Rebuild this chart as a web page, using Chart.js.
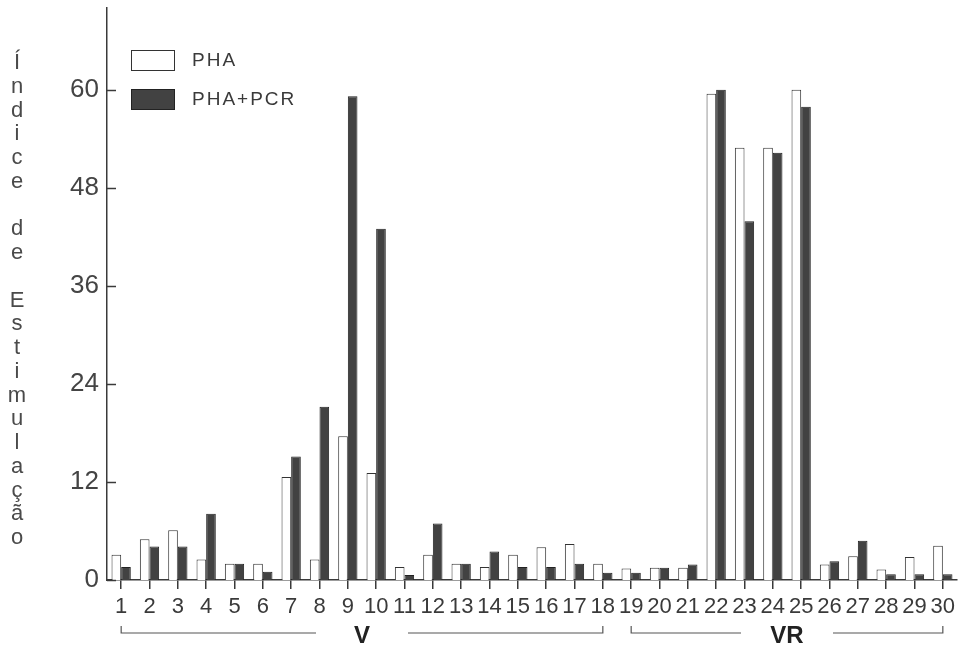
<!DOCTYPE html>
<html>
<head>
<meta charset="utf-8">
<script src="https://cdn.jsdelivr.net/npm/chart.js@4.4.1/dist/chart.umd.min.js"></script>
<style>
  html, body { margin: 0; padding: 0; background: #fff; }
  #wrap { width: 963px; height: 650px; }
</style>
</head>
<body>
<div id="wrap"><canvas id="myChart" width="963" height="650"></canvas></div>
<script>
const categories = ['1','2','3','4','5','6','7','8','9','10','11','12','13','14','15',
                    '16','17','18','19','20','21','22','23','24','25','26','27','28','29','30']
const phaValues = [3.1, 5.0, 6.1, 2.5, 2.0, 2.0, 12.6, 2.5, 17.6, 13.1, 1.6, 3.1, 2.0, 1.6, 3.1,
                   4.0, 4.4, 2.0, 1.4, 1.5, 1.5, 59.5, 52.9, 52.9, 60.0, 1.9, 2.9, 1.3, 2.8, 4.2]
const pcrValues = [1.6, 4.1, 4.1, 8.1, 2.0, 1.0, 15.1, 21.2, 59.2, 43.0, 0.6, 6.9, 2.0, 3.5, 1.6,
                   1.6, 2.0, 0.9, 0.9, 1.5, 1.9, 60.0, 43.9, 52.3, 57.9, 2.3, 4.8, 0.7, 0.7, 0.7]
const yTicks = [0, 12, 24, 36, 48, 60]
const groupNames = ['V', 'VR']
const groupRanges = [[0, 17], [18, 29]]
const yTitle = 'Índice de Estimulação'

const FONT = '"Liberation Sans", Arial, sans-serif'
const INK = '#3a3a3a'

// extra drawing: vertical title, inner ticks, legend, group brackets
const decor = {
    id: 'decor',
    afterDraw(chart) {
        const ctx = chart.ctx
        const area = chart.chartArea
        const x = chart.scales.x
        const y = chart.scales.y
        ctx.save()

        // stacked letters of the y title
        ctx.fillStyle = '#4a4a4a'
        ctx.font = '22px ' + FONT
        ctx.textAlign = 'center'
        ctx.textBaseline = 'middle'
        Array.from(yTitle).forEach((ch, i) => {
            if (ch !== ' ') ctx.fillText(ch, 17, 63 + i * 23.75)
        })

        // ticks pointing into the plot
        ctx.strokeStyle = INK
        ctx.lineWidth = 1.5
        yTicks.forEach(v => {
            const py = Math.round(y.getPixelForValue(v)) + 0.5
            ctx.beginPath()
            ctx.moveTo(area.left, py)
            ctx.lineTo(area.left + 9, py)
            ctx.stroke()
        })

        // legend
        const ds = chart.data.datasets
        ctx.font = '19px ' + FONT
        ctx.textAlign = 'left'
        ctx.letterSpacing = '2px'
        ds.forEach((d, i) => {
            const top = 50 + i * 39
            ctx.fillStyle = d.backgroundColor
            ctx.fillRect(131, top, 43, 20)
            ctx.lineWidth = 1
            ctx.strokeStyle = d.borderColor
            ctx.strokeRect(131.5, top + 0.5, 43, 20)
            ctx.fillStyle = INK
            ctx.fillText(d.label, 192, top + 11)
        })
        ctx.letterSpacing = '0px'

        // group brackets below the axis
        const by = 633
        ctx.strokeStyle = '#555'
        ctx.lineWidth = 1.2
        ctx.fillStyle = '#222'
        ctx.font = 'bold 24px ' + FONT
        ctx.textAlign = 'center'
        groupRanges.forEach((r, i) => {
            const x0 = x.getPixelForValue(r[0])
            const x1 = x.getPixelForValue(r[1])
            const mid = (x0 + x1) / 2
            const gap = 46
            ctx.beginPath()
            ctx.moveTo(x0, by - 7)
            ctx.lineTo(x0, by)
            ctx.lineTo(mid - gap, by)
            ctx.moveTo(mid + gap, by)
            ctx.lineTo(x1, by)
            ctx.lineTo(x1, by - 7)
            ctx.stroke()
            ctx.fillText(groupNames[i], mid, by + 3)
        })
        ctx.restore()
    }
}

const data = {
    labels: categories,
    datasets: [{
        label: 'PHA',
        data: phaValues,
        backgroundColor: '#ffffff',
        borderColor: '#333333',
        borderWidth: 1
    }, {
        label: 'PHA+PCR',
        data: pcrValues,
        backgroundColor: '#424242',
        borderColor: '#222222',
        borderWidth: 1
    }]
}

const config = {
    type: 'bar',
    data: data,
    plugins: [decor],
    options: {
        responsive: false,
        animation: false,
        layout: { padding: { left: 30, top: 8, right: 6, bottom: 30 } },
        plugins: {
            legend: { display: false },
            tooltip: { enabled: false }
        },
        datasets: {
            bar: { barPercentage: 1, categoryPercentage: 0.68 }
        },
        scales: {
            x: {
                grid: { display: true, drawOnChartArea: false, offset: false, tickLength: 9, color: INK, lineWidth: 1.5 },
                border: { display: true, color: INK, width: 1.5 },
                ticks: { color: INK, font: { family: FONT, size: 22 }, padding: 5, autoSkip: false, maxRotation: 0 },
                afterFit(scale) { scale.height = 40 }
            },
            y: {
                min: 0,
                max: 70,
                grid: { display: false },
                border: { display: true, color: INK, width: 1.5 },
                ticks: { color: '#444', font: { family: FONT, size: 26 }, padding: 0 },
                afterBuildTicks(scale) { scale.ticks = yTicks.map(v => ({ value: v })) },
                afterFit(scale) {
                    scale.width = 77
                    scale.paddingTop = 0
                    scale.paddingBottom = 0
                }
            }
        }
    }
}

let myChart = new Chart(document.getElementById('myChart'), config)
</script>
</body>
</html>
